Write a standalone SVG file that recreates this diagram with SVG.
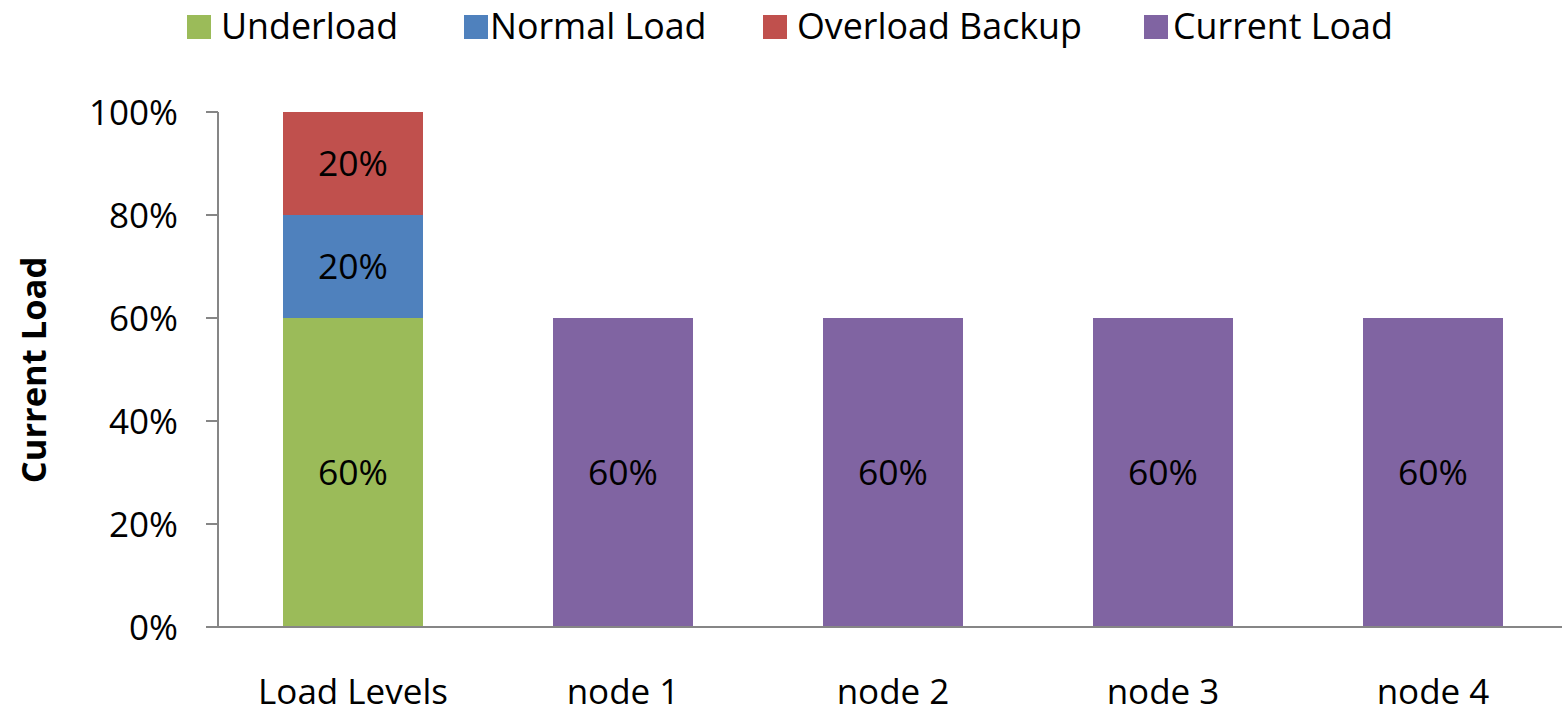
<svg xmlns="http://www.w3.org/2000/svg" width="1562" height="711" viewBox="0 0 1562 711">
<style>
text{font-family:"Open Sans","Liberation Sans",sans-serif;fill:#000}
.leg{font-size:35.8px}
.tick{font-size:35px;text-anchor:end}
.cat{font-size:35px;text-anchor:middle}
.val{font-size:35.5px;text-anchor:middle}
.title{font-size:34.5px;font-weight:bold;text-anchor:middle}
.ax{stroke:#868686;stroke-width:2;fill:none}
.g{fill:#9BBB59}.b{fill:#4F81BD}.r{fill:#C0504D}.p{fill:#8064A2}
</style>
<rect width="1562" height="711" fill="#fff"/>
<g id="legend">
<rect class="g" x="187" y="15" width="24" height="24"/><text class="leg" x="221" y="39">Underload</text>
<rect class="b" x="464" y="15" width="24" height="24"/><text class="leg" x="490" y="39">Normal Load</text>
<rect class="r" x="763" y="15" width="24" height="24"/><text class="leg" x="797" y="39">Overload Backup</text>
<rect class="p" x="1144" y="15" width="24" height="24"/><text class="leg" x="1173" y="39">Current Load</text>
</g>
<g id="axes">
<line class="ax" x1="218" y1="112" x2="218" y2="627"/>
<line class="ax" x1="206" y1="627" x2="1562" y2="627"/>
<line class="ax" x1="206" y1="112" x2="218" y2="112"/>
<line class="ax" x1="206" y1="215" x2="218" y2="215"/>
<line class="ax" x1="206" y1="318" x2="218" y2="318"/>
<line class="ax" x1="206" y1="421" x2="218" y2="421"/>
<line class="ax" x1="206" y1="524" x2="218" y2="524"/>
<text class="tick" x="178" y="125">100%</text>
<text class="tick" x="178" y="228">80%</text>
<text class="tick" x="178" y="331">60%</text>
<text class="tick" x="178" y="434">40%</text>
<text class="tick" x="178" y="537">20%</text>
<text class="tick" x="178" y="640">0%</text>
<text class="title" transform="translate(46 370) rotate(-90)">Current Load</text>
</g>
<g id="bar-load-levels">
<rect class="g" x="283" y="318" width="140" height="308"/>
<rect class="b" x="283" y="215" width="140" height="103"/>
<rect class="r" x="283" y="112" width="140" height="103"/>
<text class="val" x="353" y="176">20%</text>
<text class="val" x="353" y="279">20%</text>
<text class="val" x="353" y="485">60%</text>
<text class="cat" x="353" y="704">Load Levels</text>
</g>
<g id="bar-node1">
<rect class="p" x="553" y="318" width="140" height="308"/>
<text class="val" x="623" y="485">60%</text>
<text class="cat" x="623" y="704">node 1</text>
</g>
<g id="bar-node2">
<rect class="p" x="823" y="318" width="140" height="308"/>
<text class="val" x="893" y="485">60%</text>
<text class="cat" x="893" y="704">node 2</text>
</g>
<g id="bar-node3">
<rect class="p" x="1093" y="318" width="140" height="308"/>
<text class="val" x="1163" y="485">60%</text>
<text class="cat" x="1163" y="704">node 3</text>
</g>
<g id="bar-node4">
<rect class="p" x="1363" y="318" width="140" height="308"/>
<text class="val" x="1433" y="485">60%</text>
<text class="cat" x="1433" y="704">node 4</text>
</g>
</svg>
